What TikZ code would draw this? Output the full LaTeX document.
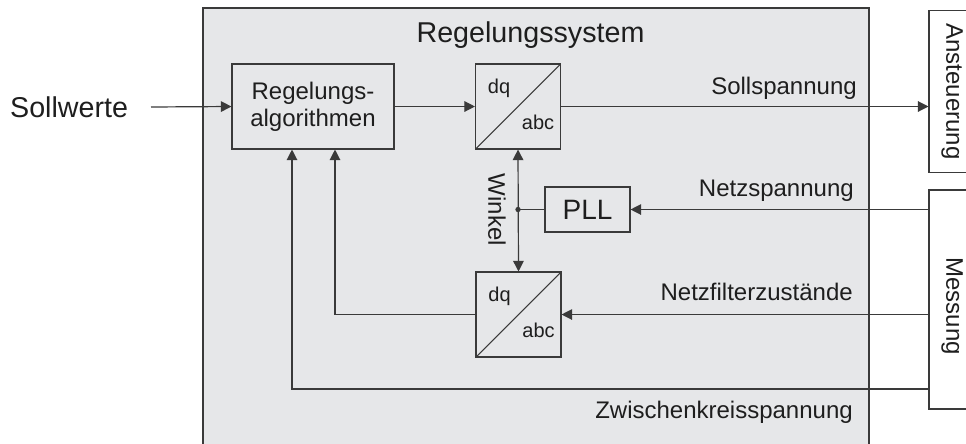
\documentclass[tikz,border=0pt]{standalone}
\usepackage{fontspec}
\setmainfont{Liberation Sans}
\usetikzlibrary{arrows.meta}

\definecolor{sysgray}{HTML}{E6E7E9}
\definecolor{linegray}{HTML}{3A3A3A}
\definecolor{textgray}{HTML}{1E1E1E}

\tikzset{
    >={Triangle[length=8pt,width=8pt]},
    txt/.style={font=\fontsize{18}{20}\selectfont, text=textgray, inner sep=0pt},
    bigtxt/.style={txt, font=\fontsize{21.5}{24}\selectfont},
    smalltxt/.style={txt, font=\fontsize{15}{17}\selectfont},
    block/.style={draw=linegray, line width=0.8pt, fill=sysgray, inner sep=0pt, txt, align=center},
    trafo/.style={block, minimum size=63.75pt,
        path picture={\draw[linegray, line width=0.8pt] (path picture bounding box.south west) -- (path picture bounding box.north east);}},
    conn/.style={draw=linegray, line width=0.9pt},
}

\begin{document}
\begin{tikzpicture}[x=0.75pt, y=-0.75pt]
        \useasboundingbox (0,0) rectangle (966,443);

        % Frame
        \draw[conn, fill=sysgray] (203,8) rectangle (869,450);
        \node[bigtxt, anchor=base] (title) at (530.5,42) {Regelungssystem};

        % Nodes
        \node[bigtxt, anchor=east, inner xsep=17pt] (sollw) at (151,107) {Sollwerte};
        \node[block, minimum width=121.5pt, minimum height=63.75pt] (algo) at (313,106.5) {Regelungs-\\algorithmen};
        \node[trafo] (dq1) at (518,106.5) {};
        \node[smalltxt] (dq1-in)  at ([shift={(-19,-18)}]dq1.center) {dq};
        \node[smalltxt] (dq1-out) at ([shift={(20,16)}]dq1.center)   {abc};
        \node[trafo] (dq2) at (518.5,314.5) {};
        \node[smalltxt] (dq2-in)  at ([shift={(-19,-18)}]dq2.center) {dq};
        \node[smalltxt] (dq2-out) at ([shift={(20,16)}]dq2.center)   {abc};
        \node[block, minimum width=63.75pt, minimum height=33.75pt, font=\fontsize{21}{24}\selectfont] (pll) at (587.5,209.5) {PLL};

        \node[block, fill=white, minimum width=34.5pt, minimum height=121.8pt] (anst) at (952,91.5) {};
        \node[txt, rotate=-90] (anst-txt) at (anst.center) {Ansteuerung};
        \node[block, fill=white, minimum width=34.5pt, minimum height=164.25pt] (mess) at (952,299.5) {};
        \node[txt, rotate=-90] (mess-txt) at ([yshift=-5pt]mess.center) {Messung};

        % Labels
        \node[txt, anchor=base east] (sollsp) at (857,94)  {Sollspannung};
        \node[txt, anchor=base east] (netzsp) at (854,196) {Netzspannung};
        \node[txt, anchor=base east] (filter) at (853,300) {Netzfilterzustände};
        \node[txt, anchor=base east] (zwk)    at (853,418) {Zwischenkreisspannung};
        \node[txt, rotate=-90] (winkel) at (497,210) {Winkel};

        \coordinate (wdot) at (dq1.south |- pll.west);
        \coordinate (zk) at (929,389);

        % Connectors
        \draw[conn, ->]  (sollw.east) -- (algo.west);
        \draw[conn, ->]  (algo.east) -- (dq1.west);
        \draw[conn, ->]  (dq1.east) -- (dq1.east -| anst.west);

        \draw[conn, ->]  (pll.east -| mess.west) -- (pll.east);
        \draw[conn, ->]  (dq2.east -| mess.west) -- (dq2.east);

        \draw[conn, <->] (dq1.south) -- (dq2.north);
        \draw[conn]      (pll.west) -- (wdot);
        \fill[linegray]  (wdot) circle (2pt);

        \draw[conn, ->]  (dq2.west) -| ([xshift=16.5pt]algo.south);
        \draw[conn, ->]  (zk) -| ([xshift=-15.75pt]algo.south);
    \end{tikzpicture}
\end{document}
